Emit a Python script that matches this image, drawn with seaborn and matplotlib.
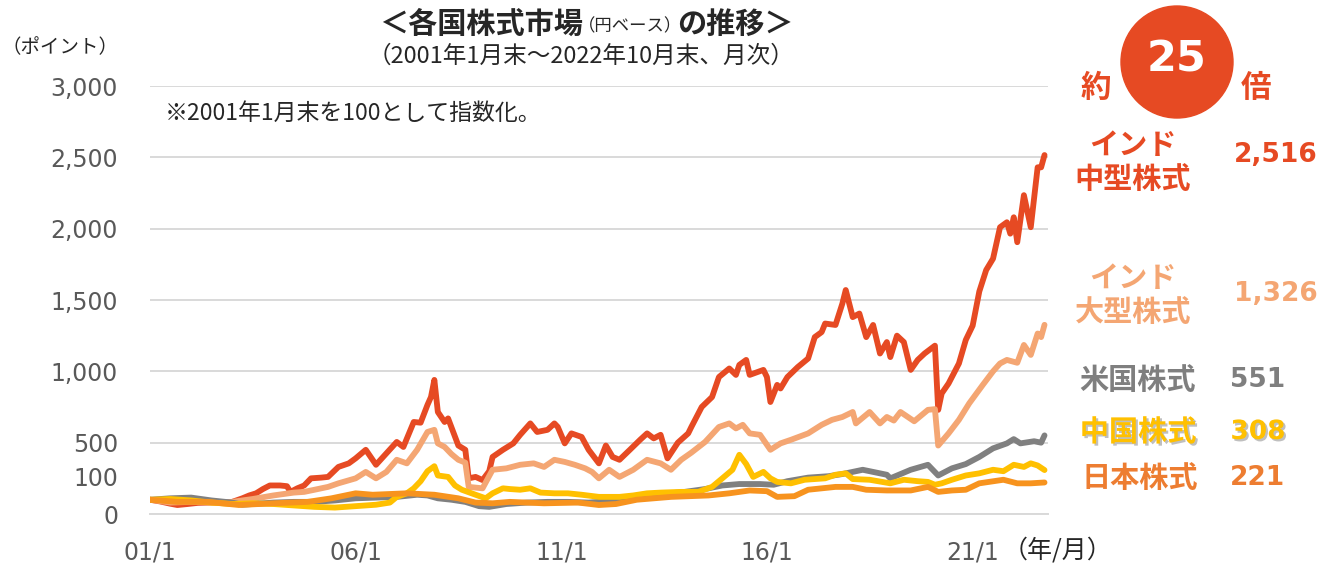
import pandas as pd
import seaborn as sns
import matplotlib.pyplot as plt
import matplotlib.patheffects as pe
from matplotlib.patches import Circle
from matplotlib.transforms import blended_transform_factory

# --- data (months since 2001/1, index with 2001/1 = 100) ---
series_names = ["インド中型株式", "インド大型株式", "米国株式", "中国株式", "日本株式"]
series_colors = ["#E64A23", "#F4A673", "#808080", "#FFC000", "#F7931E"]
final_labels = ["2,516", "1,326", "551", "308", "221"]

mid_months = [0, 3, 6, 8, 11, 14, 17, 21, 24, 27, 29, 31, 33, 35, 38, 40, 41, 43, 45, 47,
              50, 52, 55, 58, 60, 63, 66, 69, 72, 74, 77, 79, 81, 82, 83, 84, 86, 87, 90, 92,
              93, 95, 97, 99, 100, 103, 106, 108, 111, 113, 116, 118, 119, 121, 123, 126, 128,
              131, 133, 135, 137, 140, 143, 145, 147, 149, 151, 154, 157, 158, 161, 164, 166,
              169, 171, 172, 174, 175, 179, 180, 181, 183, 184, 186, 189, 192, 194, 196, 197,
              200, 202, 203, 205, 207, 209, 211, 213, 215, 216, 218, 220, 222, 224, 226, 229,
              230, 231, 233, 236, 238, 240, 242, 244, 246, 248, 250, 251, 252, 253, 255, 257,
              259, 260, 261]
mid_values = [100, 88, 72, 63, 70, 78, 80, 82, 85, 110, 130, 145, 175, 200, 200, 195, 155, 180,
              200, 250, 255, 260, 330, 355, 390, 450, 345, 425, 505, 470, 645, 640, 765, 820,
              940, 715, 645, 670, 480, 450, 250, 260, 238, 300, 400, 450, 495, 555, 635, 575,
              590, 635, 610, 495, 565, 540, 450, 355, 480, 400, 380, 450, 520, 565, 530, 555,
              390, 500, 565, 610, 750, 820, 960, 1020, 975, 1045, 1080, 975, 1010, 960, 785,
              905, 880, 960, 1030, 1090, 1240, 1275, 1335, 1325, 1475, 1570, 1380, 1405, 1240,
              1325, 1125, 1205, 1100, 1250, 1205, 1010, 1080, 1125, 1180, 730, 845, 915, 1055,
              1220, 1320, 1560, 1710, 1790, 2010, 2045, 1965, 2080, 1905, 2235, 2010, 2430,
              2430, 2516]

large_months = [0, 6, 12, 18, 24, 30, 36, 42, 45, 48, 52, 55, 60, 63, 66, 69, 72, 75, 78, 81,
                83, 84, 86, 88, 90, 92, 93, 97, 100, 104, 108, 112, 115, 118, 121, 124, 127,
                129, 131, 134, 137, 141, 145, 149, 152, 155, 158, 162, 166, 169, 171, 173, 175,
                178, 181, 184, 187, 192, 196, 199, 202, 205, 206, 210, 213, 215, 217, 219, 223,
                227, 229, 230, 233, 236, 239, 243, 246, 248, 250, 253, 255, 257, 259, 260, 261]
large_values = [100, 80, 85, 80, 85, 105, 130, 150, 155, 170, 190, 215, 250, 295, 250, 295,
                380, 355, 450, 575, 590, 495, 470, 420, 380, 360, 190, 180, 310, 320, 345, 355,
                330, 380, 365, 345, 320, 295, 250, 310, 260, 310, 380, 355, 310, 380, 430, 505,
                610, 635, 600, 625, 565, 555, 450, 495, 520, 565, 625, 660, 680, 715, 635, 715,
                635, 680, 655, 715, 650, 730, 735, 480, 565, 660, 775, 905, 1000, 1055, 1080,
                1060, 1185, 1115, 1265, 1240, 1326]

us_months = [0, 6, 12, 18, 24, 27, 30, 36, 42, 48, 54, 60, 66, 72, 78, 81, 84, 88, 92, 96,
             99, 104, 110, 116, 122, 128, 134, 140, 146, 150, 156, 162, 167, 172, 178, 182,
             186, 192, 198, 202, 208, 215, 216, 222, 227, 230, 234, 238, 242, 246, 250, 252,
             254, 258, 260, 261]
us_values = [100, 110, 115, 95, 80, 65, 70, 80, 85, 85, 95, 110, 115, 120, 135, 130, 110, 100,
             85, 55, 50, 70, 80, 85, 85, 80, 90, 100, 120, 140, 155, 175, 200, 210, 210, 205,
             230, 255, 265, 280, 310, 275, 250, 310, 345, 270, 320, 350, 400, 460, 495, 525,
             495, 510, 500, 551]

china_months = [0, 6, 12, 18, 24, 30, 36, 42, 48, 54, 60, 66, 70, 72, 75, 77, 79, 81, 83, 84,
                87, 89, 91, 95, 98, 100, 103, 105, 108, 111, 114, 118, 122, 126, 131, 137, 141,
                145, 149, 155, 160, 164, 167, 170, 172, 174, 176, 179, 181, 183, 187, 191, 197,
                200, 203, 205, 210, 216, 220, 224, 227, 229, 231, 234, 238, 242, 246, 249, 252,
                255, 257, 259, 261]
china_values = [100, 105, 95, 80, 70, 75, 70, 60, 50, 45, 55, 65, 80, 120, 145, 180, 230, 300,
                335, 270, 260, 200, 170, 135, 110, 145, 180, 175, 170, 180, 150, 145, 145, 135,
                120, 120, 130, 145, 150, 155, 155, 190, 250, 310, 415, 350, 260, 295, 250, 225,
                215, 240, 250, 275, 285, 245, 240, 215, 240, 230, 225, 205, 215, 240, 270, 285,
                310, 300, 345, 330, 355, 340, 308]

japan_months = [0, 8, 17, 26, 36, 46, 53, 60, 65, 75, 83, 90, 95, 100, 105, 115, 125, 131,
                136, 142, 152, 163, 169, 175, 180, 183, 188, 192, 200, 205, 209, 215, 222, 227,
                230, 234, 238, 242, 249, 253, 257, 261]
japan_values = [100, 85, 85, 63, 75, 85, 110, 145, 135, 145, 135, 110, 80, 75, 85, 75, 80, 63,
                70, 100, 120, 130, 145, 165, 160, 120, 125, 170, 190, 190, 170, 165, 165, 190,
                155, 165, 170, 215, 240, 215, 215, 221]

start = pd.Period("2001-01", freq="M")
frames = []
for name, months, values in zip(series_names,
                                [mid_months, large_months, us_months, china_months, japan_months],
                                [mid_values, large_values, us_values, china_values, japan_values]):
    frames.append(pd.DataFrame({
        "date": [(start + m).to_timestamp() for m in months],
        "value": values,
        "series": name,
    }))
df = pd.concat(frames, ignore_index=True)

sns.set_theme(style="white")
plt.rcParams["font.family"] = ["DejaVu Sans", "Noto Sans CJK JP"]
JP = ["Noto Sans CJK JP", "DejaVu Sans"]

W, H = 1320, 564
fig = plt.figure(figsize=(W / 100, H / 100), dpi=100)
ax = fig.add_axes([150 / W, 1 - 514 / H, 898 / W, 428 / H])


def fx(x):
    return x / W


def fy(y):
    return 1 - y / H


sns.lineplot(data=df, x="date", y="value", hue="series", hue_order=series_names,
             palette=series_colors, linewidth=4.2, legend=False, ax=ax)
for line in ax.lines:
    line.set_solid_joinstyle("round")
    line.set_solid_capstyle("round")

ax.set_xlim(pd.Timestamp("2001-01-01"), pd.Timestamp("2022-11-01"))
ax.set_ylim(0, 3000)
ax.set_xlabel("")
ax.set_ylabel("")

yt = list(range(0, 3001, 500))
ax.set_yticks(yt, [f"{v:,}" for v in yt])
xt = [pd.Timestamp(f"{y}-01-01") for y in (2001, 2006, 2011, 2016, 2021)]
ax.set_xticks(xt, ["01/1", "06/1", "11/1", "16/1", "21/1"])
ax.tick_params(axis="y", length=0, pad=23, labelsize=17, labelcolor="#595959")
ax.tick_params(axis="x", length=5, width=1.2, color="#D9D9D9", pad=14,
               labelsize=17, labelcolor="#595959")
ax.grid(axis="y", color="#D9D9D9", linewidth=1.4)
for s in ["top", "right", "left"]:
    ax.spines[s].set_visible(False)
ax.spines["bottom"].set_color("#D9D9D9")
ax.spines["bottom"].set_linewidth(1.4)

trans = blended_transform_factory(ax.transAxes, ax.transData)
ax.text(-32 / 898, 245, "100", transform=trans, ha="right", va="center",
        fontsize=17, color="#595959")

# titles and notes
fig.text(fx(583), fy(24), "＜各国株式市場", ha="right", va="center", fontsize=21,
         fontweight="bold", family=JP)
fig.text(fx(630), fy(26), "（円ベース）", ha="center", va="center", fontsize=12.5, family=JP)
fig.text(fx(677), fy(24), "の推移＞", ha="left", va="center", fontsize=21,
         fontweight="bold", family=JP)
fig.text(fx(581), fy(56), "（2001年1月末～2022年10月末、月次）", ha="center", va="center",
         fontsize=17, family=JP)
fig.text(fx(60), fy(48), "（ポイント）", ha="center", va="center", fontsize=14, family=JP)
fig.text(fx(165), fy(113), "※2001年1月末を100として指数化。", ha="left", va="center",
         fontsize=16.5, family=JP)
fig.text(fx(1058), fy(551), "（年/月）", ha="center", va="center", fontsize=18, family=JP)

# right side annotations
red = series_colors[0]
fig.add_artist(Circle((11.77, (H - 62) / 100), 0.56, transform=fig.dpi_scale_trans,
                      color=red, zorder=1))
fig.text(fx(1177), fy(60), "25", ha="center", va="center", fontsize=31,
         fontweight="bold", color="white")
fig.text(fx(1096), fy(88), "約", ha="center", va="center", fontsize=22,
         fontweight="bold", color=red, family=JP)
fig.text(fx(1256), fy(88), "倍", ha="center", va="center", fontsize=22,
         fontweight="bold", color=red, family=JP)

label_specs = [
    (["インド", "中型株式"], [145, 179], 1133, 155, red),
    (["インド", "大型株式"], [278, 312], 1133, 294, "#F4A673"),
    (["米国株式"], [380], 1138, 380, "#7F7F7F"),
    (["中国株式"], [432], 1138, 432, "#FFC000"),
    (["日本株式"], [478], 1140, 478, "#ED7D31"),
]
for (lines, ys, x, yv, color), val in zip(label_specs, final_labels):
    effects = None
    if color == "#FFC000":
        effects = [pe.withSimplePatchShadow(offset=(1.5, -1.5), shadow_rgbFace="#808080",
                                            alpha=0.5)]
    for txt, y in zip(lines, ys):
        t = fig.text(fx(x), fy(y), txt, ha="center", va="center", fontsize=21,
                     fontweight="bold", color=color, family=JP)
        if effects:
            t.set_path_effects(effects)
    t = fig.text(fx(1318), fy(yv), val, ha="right", va="center", fontsize=19,
                 fontweight="bold", color=color)
    if len(val) <= 3:
        t.set_ha("center")
        t.set_x(fx(1258))
    if effects:
        t.set_path_effects(effects)

fig.savefig("out.png", dpi=100)
